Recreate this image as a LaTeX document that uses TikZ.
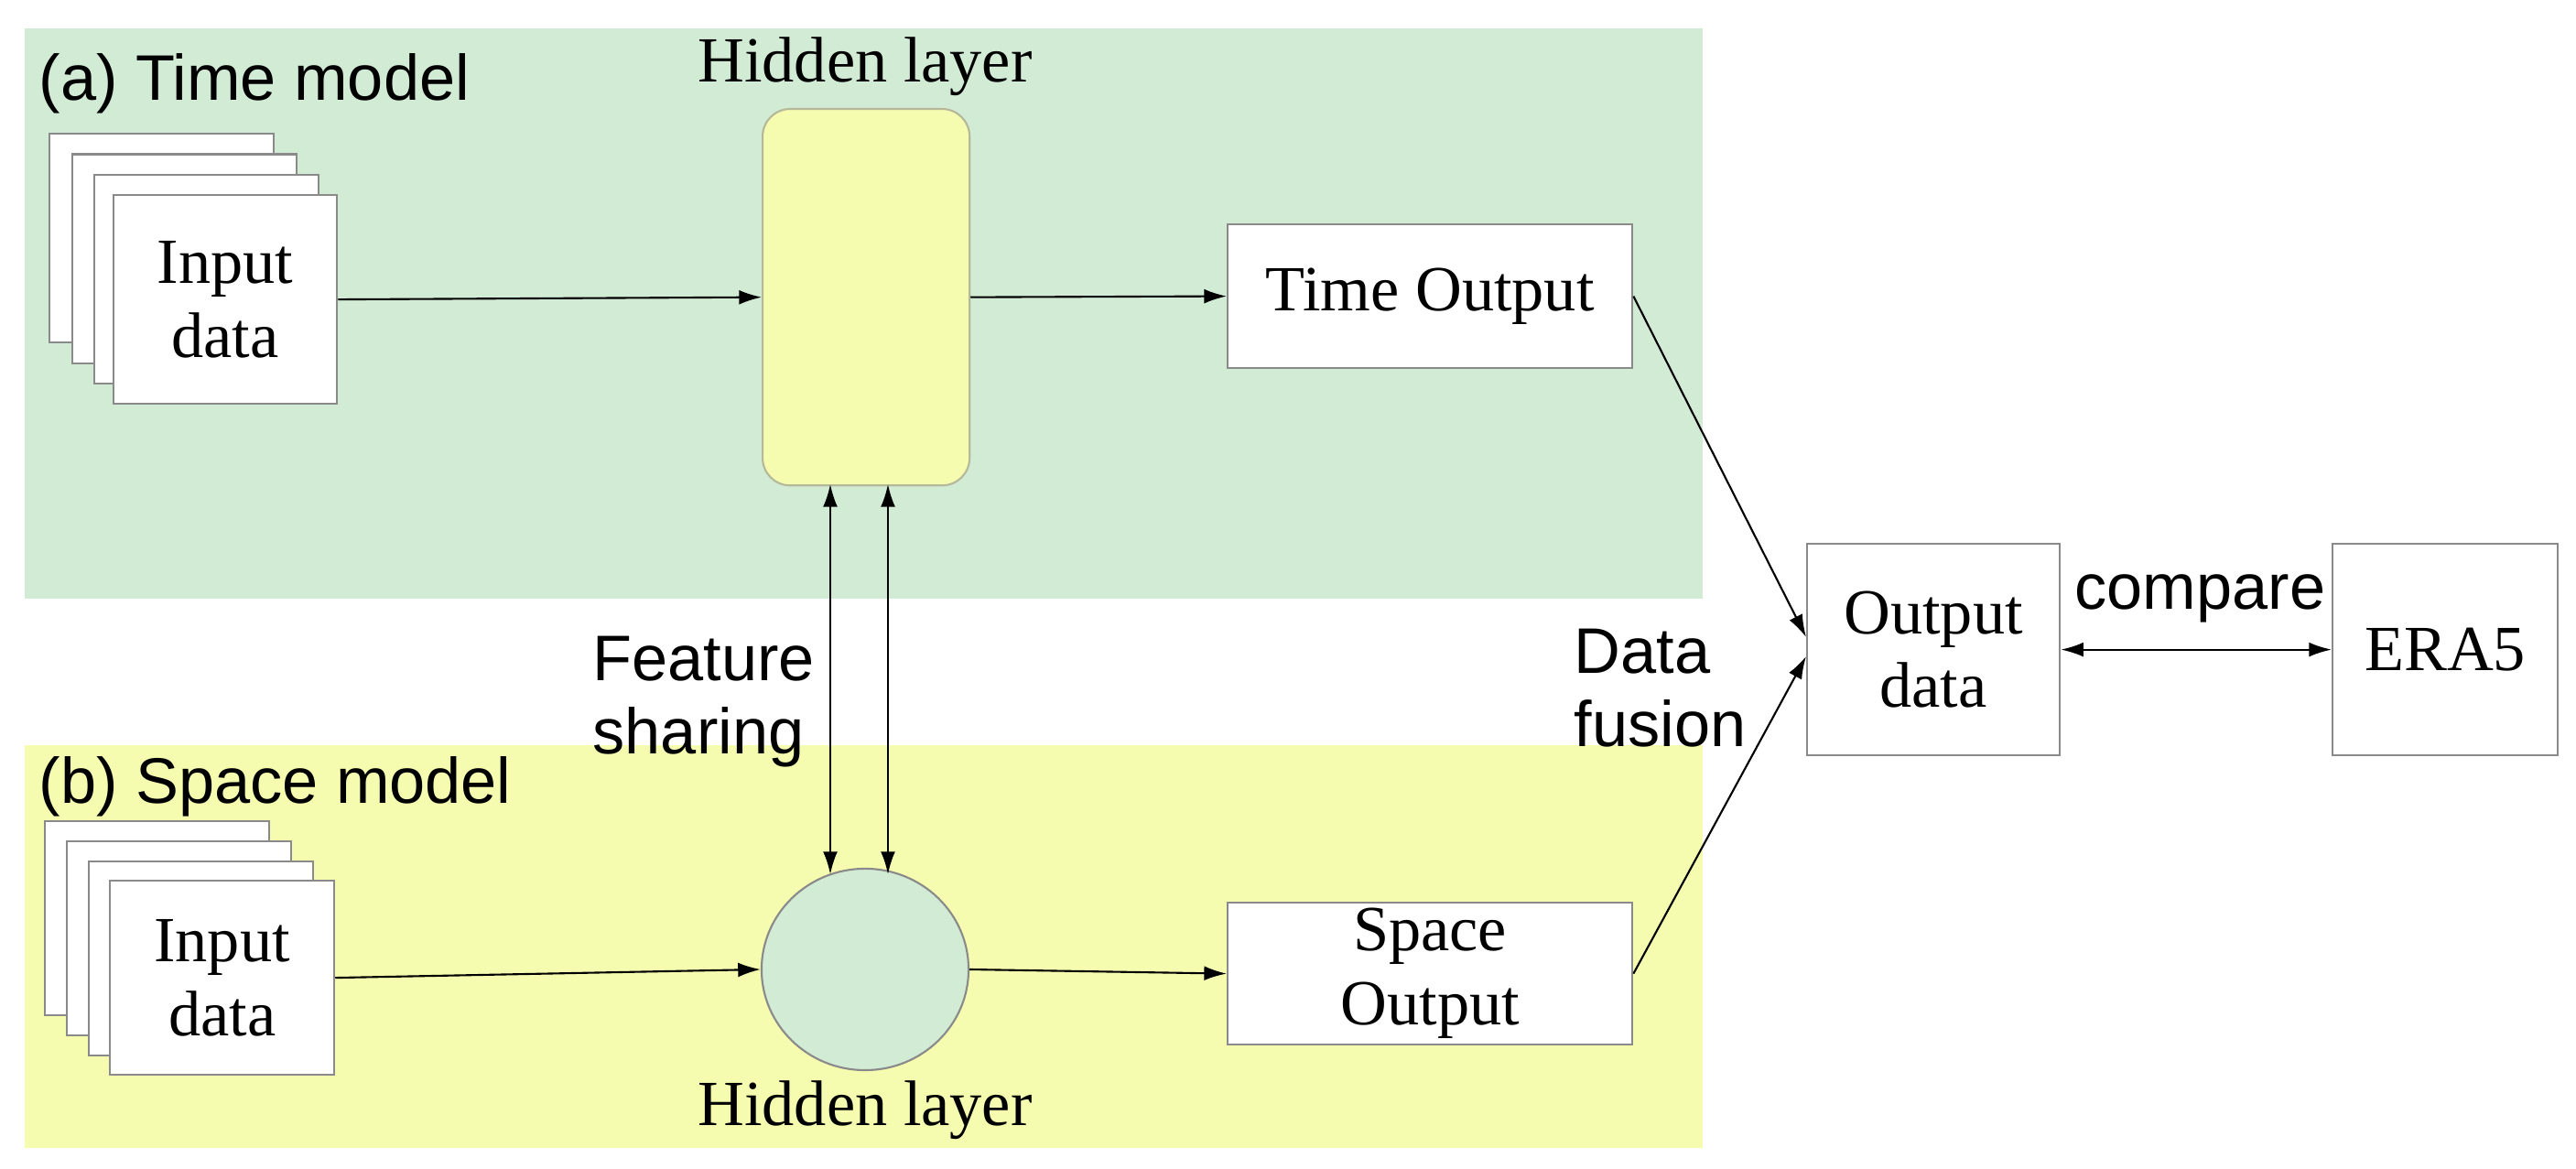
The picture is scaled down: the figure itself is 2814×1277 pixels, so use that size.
\documentclass[tikz,border=0pt]{standalone}
\usepackage{fontspec}
\setmainfont{Liberation Serif}
\newfontfamily\sansf{Liberation Sans}
\usetikzlibrary{arrows.meta,shapes.geometric}
\definecolor{bgG}{HTML}{D2EBD4}
\definecolor{bgY}{HTML}{F5FCAF}
\definecolor{bord}{HTML}{8A8A8A}
\begin{document}
\begin{tikzpicture}[x=0.01cm,y=-0.01cm,
  box/.style={draw=bord,line width=0.6pt,fill=white,inner sep=0pt,align=center,font=\fontsize{20}{23}\selectfont},
  lab/.style={inner sep=0pt,anchor=base west,font=\sansf\fontsize{20}{23}\selectfont},
  arr/.style={-{Latex[length=7pt,width=4.5pt]},line width=0.6pt},
  barr/.style={{Latex[length=7pt,width=4.5pt]}-{Latex[length=7pt,width=4.5pt]},line width=0.6pt}]
\useasboundingbox (0,0) rectangle (2814,1277);
\fill[bgG] (27,31) rectangle (1860,654);
\fill[bgY] (27,814) rectangle (1860,1254);
\node[lab] (ta) at (42,110) {(a) Time model};
\node[lab] (sb) at (42,878) {(b) Space model};
% input stack a
\foreach \i in {0,1,2}{\node[box,minimum width=2.45cm,minimum height=2.28cm,anchor=north west] (ia\i) at (53+24.5*\i,145+22.5*\i) {};}
\node[box,minimum width=2.44cm,minimum height=2.28cm,anchor=north west] (ina) at (123,212) {Input\\data};
% input stack b
\foreach \i in {0,1,2}{\node[box,minimum width=2.45cm,minimum height=2.12cm,anchor=north west] (ib\i) at (48+24*\i,896+22*\i) {};}
\node[box,minimum width=2.45cm,minimum height=2.12cm,anchor=north west] (inb) at (119,961) {Input\\data};
% hidden layers
\node[draw=bord!60!bgY,fill=bgY,rounded corners=0.3cm,minimum width=2.26cm,minimum height=4.11cm,anchor=north west,line width=0.6pt] (ha) at (832,118) {};
\node[inner sep=0pt,anchor=base,font=\fontsize{20}{23}\selectfont] (hal) at (945,90) {Hidden layer};
\node[draw=bord,fill=bgG,ellipse,minimum width=2.26cm,minimum height=2.2cm,inner sep=0pt,line width=0.6pt] (hb) at (945,1059) {};
\node[inner sep=0pt,anchor=base,font=\fontsize{20}{23}\selectfont] (hbl) at (945,1230) {Hidden layer};
% outputs
\node[box,minimum width=4.42cm,minimum height=1.57cm,anchor=north west] (to) at (1340,244) {Time Output};
\node[box,minimum width=4.42cm,minimum height=1.55cm,anchor=north west] (so) at (1340,985) {Space\\Output};
\node[box,minimum width=2.76cm,minimum height=2.31cm,anchor=north west] (od) at (1973,593) {Output\\data};
\node[box,minimum width=2.46cm,minimum height=2.31cm,anchor=north west] (era) at (2547,593) {ERA5};
% labels
\node[lab,align=left,anchor=north west] (fs) at (647,694) {Feature\\sharing};
\node[lab,align=left,anchor=north west] (df) at (1719,686) {Data\\fusion};
\node[lab] (cmp) at (2266,666) {compare};
% arrows
\draw[arr] (ina.east) -- (ha.west);
\draw[arr] (ha.east) -- (to.west);
\draw[arr] (inb.east) -- (hb.west);
\draw[arr] (hb.east) -- (so.west);
\coordinate (fa1) at (907,529); \coordinate (fa2) at (970,529);
\coordinate (fb1) at (907,955); \coordinate (fb2) at (970,955);
\draw[barr] (fa1) -- (fb1);
\draw[barr] (fa2) -- (fb2);
\coordinate (oi1) at (1973,696); \coordinate (oi2) at (1973,717);
\draw[arr] (to.east) -- (oi1);
\draw[arr] (so.east) -- (oi2);
\draw[barr] (od.east) -- (era.west);
\end{tikzpicture}
\end{document}
